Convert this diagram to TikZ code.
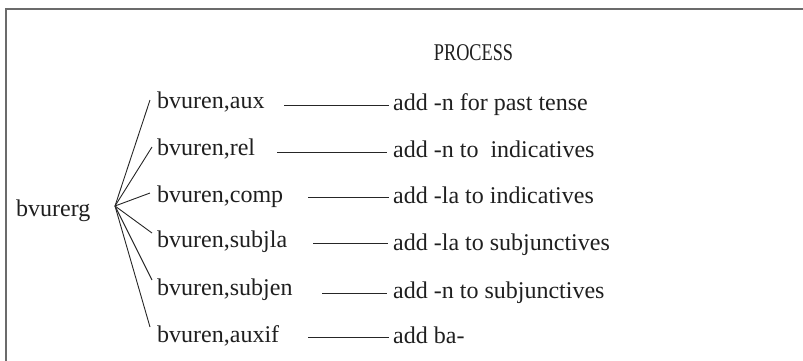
\documentclass[tikz,border=0pt]{standalone}
\usepackage{fontspec}
\setmainfont{Liberation Serif}
\begin{document}
\begin{tikzpicture}[x=1pt,y=-1pt,
  lbl/.style={anchor=base west, inner sep=0pt, font=\fontsize{24}{28}\selectfont, text=black!88},
  conn/.style={line width=0.9pt, draw=black!85},
  framel/.style={line width=2pt, draw=black!58}]
\useasboundingbox (0,0) rectangle (803,360);
\draw[framel] (6,362) -- (6,9) -- (805,9);
% title
\node[lbl, anchor=base] (title) at (473.5,60) {\scalebox{0.76}[1]{PROCESS}};
% root and fan point
\node[lbl] (root) at (16,216) {bvurerg};
\coordinate (fan) at (115,206);
% middle labels
\node[lbl] (l1) at (157,108) {bvuren,aux};
\node[lbl] (l2) at (157,155) {bvuren,rel};
\node[lbl] (l3) at (157,202) {bvuren,comp};
\node[lbl] (l4) at (157,247) {bvuren,subjla};
\node[lbl] (l5) at (157,295) {bvuren,subjen};
\node[lbl] (l6) at (157,342) {bvuren,auxif};
% processes
\node[lbl] (a1) at (393,110) {add -n for past tense};
\node[lbl] (a2) at (393,157) {add -n to\ \ indicatives};
\node[lbl] (a3) at (393,203) {add -la to indicatives};
\node[lbl] (a4) at (393,250) {add -la to subjunctives};
\node[lbl] (a5) at (393,298) {add -n to subjunctives};
\node[lbl] (a6) at (393,343) {add ba-};
% fan connectors
\draw[conn] (fan) -- ([shift={(-7,-8)}]l1.base west);
\draw[conn] (fan) -- ([shift={(-5,-8)}]l2.base west);
\draw[conn] (fan) -- ([shift={(-7,-9)}]l3.base west);
\draw[conn] (fan) -- ([shift={(-5,-14)}]l4.base west);
\draw[conn] (fan) -- ([shift={(-5,-15)}]l5.base west);
\draw[conn] (fan) -- ([shift={(-7,-15)}]l6.base west);
% horizontal connectors
\coordinate (s1) at (284,105);
\coordinate (s2) at (277,152);
\coordinate (s3) at (308,197);
\coordinate (s4) at (313,243);
\coordinate (s5) at (322,293);
\coordinate (s6) at (308,337);
\draw[conn, shorten >=4pt] (s1) -- (s1 -| a1.west);
\draw[conn, shorten >=6pt] (s2) -- (s2 -| a2.west);
\draw[conn, shorten >=4pt] (s3) -- (s3 -| a3.west);
\draw[conn, shorten >=5pt] (s4) -- (s4 -| a4.west);
\draw[conn, shorten >=6pt] (s5) -- (s5 -| a5.west);
\draw[conn, shorten >=4pt] (s6) -- (s6 -| a6.west);
\end{tikzpicture}
\end{document}
